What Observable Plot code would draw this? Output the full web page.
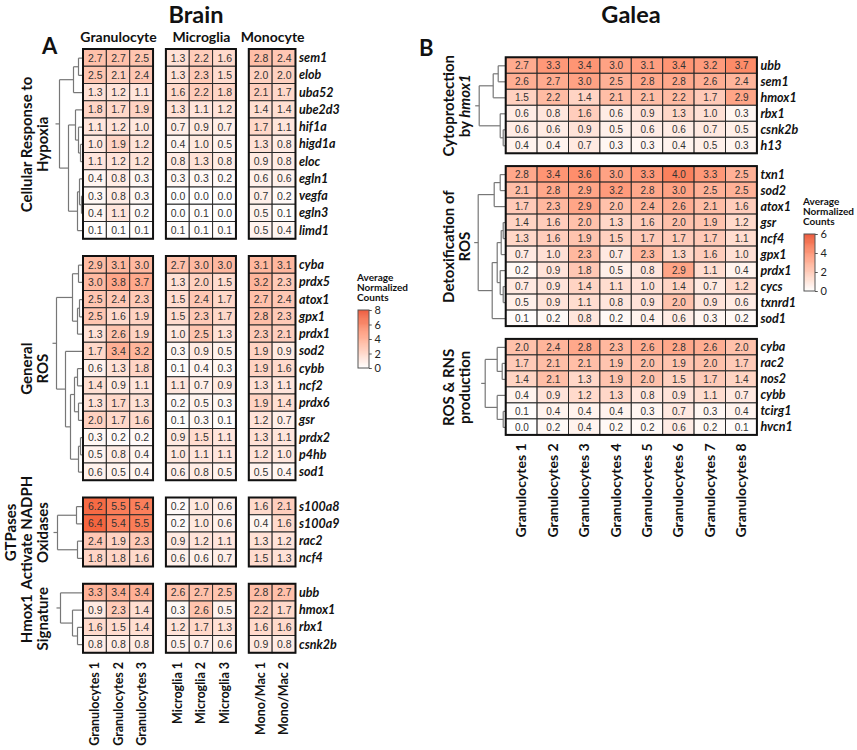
<!DOCTYPE html>
<html><head><meta charset="utf-8">
<script src="https://cdn.jsdelivr.net/npm/d3@7"></script>
<script src="https://cdn.jsdelivr.net/npm/@observablehq/plot@0.6"></script>
<style>
body{margin:0;background:#fff;}
#root{position:relative;width:857px;height:750px;overflow:hidden;font-family:Lato,sans-serif;color:#111;}
.abs{position:absolute;}
.title{font-weight:700;font-size:23.5px;line-height:29px;text-align:center;}
.letter{font-weight:700;font-size:22px;line-height:27px;}
.legtitle{font-weight:700;font-size:10px;line-height:10px;white-space:pre;}
</style></head><body><div id="root"></div>
<script>
// ---------------- DATA ----------------
const brainColumns = ["Granulocytes 1","Granulocytes 2","Granulocytes 3","Microglia 1","Microglia 2","Microglia 3","Mono/Mac 1","Mono/Mac 2"];
const brainColumnGroups = ["Granulocyte","Granulocyte","Granulocyte","Microglia","Microglia","Microglia","Monocyte","Monocyte"];

const hypoxiaLabel = "Cellular Response to\nHypoxia";
const hypoxiaGenes = ["sem1","elob","uba52","ube2d3","hif1a","higd1a","eloc","egln1","vegfa","egln3","limd1"];
const hypoxiaValues = [
 [2.7,2.7,2.5,1.3,2.2,1.6,2.8,2.4],
 [2.5,2.1,2.4,1.3,2.3,1.5,2.0,2.0],
 [1.3,1.2,1.1,1.6,2.2,1.8,2.1,1.7],
 [1.8,1.7,1.9,1.3,1.1,1.2,1.4,1.4],
 [1.1,1.2,1.0,0.7,0.9,0.7,1.7,1.1],
 [1.0,1.9,1.2,0.4,1.0,0.5,1.3,0.8],
 [1.1,1.2,1.2,0.8,1.3,0.8,0.9,0.8],
 [0.4,0.8,0.3,0.3,0.3,0.2,0.6,0.6],
 [0.3,0.8,0.3,0.0,0.0,0.0,0.7,0.2],
 [0.4,1.1,0.2,0.0,0.1,0.0,0.5,0.1],
 [0.1,0.1,0.1,0.1,0.1,0.1,0.5,0.4]];
const hypoxiaTree = [24,[10,[5,0,1],2],[15,[8,3,[5,4,[3,5,6]]],[6,[4,7,[2,8,9]],10]]];

const rosLabel = "General\nROS";
const rosGenes = ["cyba","prdx5","atox1","gpx1","prdx1","sod2","cybb","ncf2","prdx6","gsr","prdx2","p4hb","sod1"];
const rosValues = [
 [2.9,3.1,3.0,2.7,3.0,3.0,3.1,3.1],
 [3.0,3.8,3.7,1.3,2.0,1.5,3.2,2.3],
 [2.5,2.4,2.3,1.5,2.4,1.7,2.7,2.4],
 [2.5,1.6,1.9,1.5,2.3,1.7,2.8,2.3],
 [1.3,2.6,1.9,1.0,2.5,1.3,2.3,2.1],
 [1.7,3.4,3.2,0.3,0.9,0.5,1.9,0.9],
 [0.6,1.3,1.8,0.1,0.4,0.3,1.9,1.6],
 [1.4,0.9,1.1,1.1,0.7,0.9,1.3,1.1],
 [1.3,1.7,1.3,0.2,0.5,0.3,1.9,1.4],
 [2.0,1.7,1.6,0.1,0.3,0.1,1.2,0.7],
 [0.3,0.2,0.2,0.9,1.5,1.1,1.3,1.1],
 [0.5,0.8,0.4,1.0,1.1,1.1,1.2,1.0],
 [0.6,0.5,0.4,0.6,0.8,0.5,0.5,0.4]];
const rosTree = [27,[11,[5,0,1],[6,[4,2,3],4]],[18,5,[13,[9,[6,6,7],[5,8,9]],[5,[3,10,11],12]]]];

const gtpLabel = "GTPases\nActivate NADPH\nOxidases";
const gtpGenes = ["s100a8","s100a9","rac2","ncf4"];
const gtpValues = [
 [6.2,5.5,5.4,0.2,1.0,0.6,1.6,2.1],
 [6.4,5.4,5.5,0.2,1.0,0.6,0.4,1.6],
 [2.4,1.9,2.3,0.9,1.2,1.1,1.3,1.2],
 [1.8,1.8,1.6,0.6,0.6,0.7,1.5,1.3]];
const gtpTree = [26,[7,0,1],[6,2,3]];

const hmoxLabel = "Hmox1\nSignature";
const hmoxGenes = ["ubb","hmox1","rbx1","csnk2b"];
const hmoxValues = [
 [3.3,3.4,3.4,2.6,2.7,2.5,2.8,2.7],
 [0.9,2.3,1.4,0.3,2.6,0.5,2.2,1.7],
 [1.6,1.5,1.4,1.2,1.7,1.3,1.6,1.6],
 [0.8,0.8,0.8,0.5,0.7,0.6,0.9,0.8]];
const hmoxTree = [23,0,[11,1,[6,2,3]]];

const galeaColumns = ["Granulocytes 1","Granulocytes 2","Granulocytes 3","Granulocytes 4","Granulocytes 5","Granulocytes 6","Granulocytes 7","Granulocytes 8"];
const galeaColumnGroups = galeaColumns.map(() => "Granulocytes");

const cytoLabel = "Cytoprotection\nby hmox1";
const cytoGenes = ["ubb","sem1","hmox1","rbx1","csnk2b","h13"];
const cytoValues = [
 [2.7,3.3,3.4,3.0,3.1,3.4,3.2,3.7],
 [2.6,2.7,3.0,2.5,2.8,2.8,2.6,2.4],
 [1.5,2.2,1.4,2.1,2.1,2.2,1.7,2.9],
 [0.6,0.8,1.6,0.6,0.9,1.3,1.0,0.3],
 [0.6,0.6,0.9,0.5,0.6,0.6,0.7,0.5],
 [0.4,0.4,0.7,0.3,0.3,0.4,0.5,0.3]];
const cytoTree = [27,[13,[8,0,1],2],[6,3,[3,4,5]]];

const detoxLabel = "Detoxification of\nROS";
const detoxGenes = ["txn1","sod2","atox1","gsr","ncf4","gpx1","prdx1","cycs","txnrd1","sod1"];
const detoxValues = [
 [2.8,3.4,3.6,3.0,3.3,4.0,3.3,2.5],
 [2.1,2.8,2.9,3.2,2.8,3.0,2.5,2.5],
 [1.7,2.3,2.9,2.0,2.4,2.6,2.1,1.6],
 [1.4,1.6,2.0,1.3,1.6,2.0,1.9,1.2],
 [1.3,1.6,1.9,1.5,1.7,1.7,1.7,1.1],
 [0.7,1.0,2.3,0.7,2.3,1.3,1.6,1.0],
 [0.2,0.9,1.8,0.5,0.8,2.9,1.1,0.4],
 [0.7,0.9,1.4,1.1,1.0,1.4,0.7,1.2],
 [0.5,0.9,1.1,0.8,0.9,2.0,0.9,0.6],
 [0.1,0.2,0.8,0.2,0.4,0.6,0.3,0.2]];
const detoxTree = [28,[12,[6,0,1],2],[14,[9,[5,[3,3,4],5],[6,6,[3,7,8]]],9]];

const rnsLabel = "ROS & RNS\nproduction";
const rnsGenes = ["cyba","rac2","nos2","cybb","tcirg1","hvcn1"];
const rnsValues = [
 [2.0,2.4,2.8,2.3,2.6,2.8,2.6,2.0],
 [1.7,2.1,2.1,1.9,2.0,1.9,2.0,1.7],
 [1.4,2.1,1.3,1.9,2.0,1.5,1.7,1.4],
 [0.4,0.9,1.2,1.3,0.8,0.9,1.1,0.7],
 [0.1,0.4,0.4,0.4,0.3,0.7,0.3,0.4],
 [0.0,0.2,0.4,0.2,0.2,0.6,0.2,0.1]];
const rnsTree = [21,[9,0,[4,1,2]],[9,3,[3,4,5]]];

const legendTitle = "Average\nNormalized\nCounts";
const brainLegendTicks = [0,2,4,6,8];
const galeaLegendTicks = [0,2,4,6];

// ---------------- LAYOUT HELPERS ----------------
const root = document.getElementById("root");
const RED = ["#ffffff","#e8300c"];
const INTERP = "lab";

function treeLinks(tree, y0, k) {
  const out = [];
  function walk(n) {
    if (typeof n === "number") return {y: y0 + n + 0.5, h: 0};
    const [h, a, b] = n;
    const A = walk(a), B = walk(b);
    out.push({x1: -A.h*k, y1: A.y, x2: -h*k, y2: A.y});
    out.push({x1: -B.h*k, y1: B.y, x2: -h*k, y2: B.y});
    out.push({x1: -h*k, y1: A.y, x2: -h*k, y2: B.y});
    return {y: (A.y + B.y)/2, h};
  }
  const r = walk(tree);
  out.push({x1: -r.h*k, y1: r.y, x2: -(r.h+4)*k, y2: r.y});
  return out;
}

function buildPanel(cols, colGroups, groups, colGap, rowGap, k) {
  const order = [...new Set(colGroups)];
  const colX = cols.map((c,i) => i + order.indexOf(colGroups[i])*colGap);
  const cells=[], rows=[], blocks=[], links=[], glabels=[];
  let y = 0;
  groups.forEach(g => {
    const y0 = y;
    g.genes.forEach((gene,r) => {
      rows.push({gene, y: y0 + r + 0.5});
      g.values[r].forEach((v,c) => cells.push({gene, col: cols[c], v, x1: colX[c], y1: y0 + r}));
    });
    order.forEach(cg => {
      const idx = cols.map((c,i)=>i).filter(i => colGroups[i] === cg);
      blocks.push({x1: colX[idx[0]], x2: colX[idx[idx.length-1]] + 1, y1: y0, y2: y0 + g.genes.length});
    });
    glabels.push({label: g.label, y: y0 + g.genes.length/2});
    links.push(...treeLinks(g.tree, y0, k));
    y = y0 + g.genes.length + rowGap;
  });
  const headers = order.map(cg => {
    const idx = cols.map((c,i)=>i).filter(i => colGroups[i] === cg);
    return {label: cg, x: (colX[idx[0]] + colX[idx[idx.length-1]] + 1)/2};
  });
  const colLabels = cols.map((c,i) => ({label: c, x: colX[i] + 0.5}));
  const xEnd = colX[colX.length-1] + 1;
  return {cells, rows, blocks, links, glabels, headers, colLabels, xEnd, yEnd: y - rowGap};
}

function panelPlot(P, o) {
  return Plot.plot({
    width: o.width, height: 750, margin: 0,
    x: {type: "linear", domain: [-o.x0/o.colW, (o.width - o.x0)/o.colW], range: [0, o.width], axis: null},
    y: {type: "linear", domain: [-o.y0/o.rowH, (750 - o.y0)/o.rowH], range: [0, 750], axis: null},
    color: {type: "linear", domain: [0, o.max], range: RED, interpolate: INTERP},
    style: {fontFamily: "Lato, sans-serif", background: "transparent"},
    marks: [
      Plot.link(P.links, {x1: "x1", y1: "y1", x2: "x2", y2: "y2", stroke: "#777", strokeWidth: 1.2}),
      Plot.rect(P.cells, {x1: "x1", x2: d => d.x1 + 1, y1: "y1", y2: d => d.y1 + 1, fill: "v", stroke: "#2a2a2a", strokeWidth: 1}),
      Plot.rect(P.blocks, {x1: "x1", x2: "x2", y1: "y1", y2: "y2", fill: "none", stroke: "#111", strokeWidth: 2}),
      Plot.text(P.cells, {x: d => d.x1 + 0.5, y: d => d.y1 + 0.5, text: d => d.v.toFixed(1), fontSize: o.numSize, fill: "#333", fontFamily: "Liberation Sans, Arial, sans-serif"}),
      Plot.text(P.rows, {x: () => P.xEnd, y: "y", text: "gene", textAnchor: "start", dx: 3, fontStyle: "italic", fontWeight: "bold", fontSize: 12.5, fill: "#111"}),
      Plot.text(P.glabels, {x: () => o.glabelX, y: "y", text: "label", rotate: -90, lineAnchor: "bottom", fontWeight: "bold", fontSize: 15, lineHeight: 1.05, fill: "#111"}),
      o.headers ? Plot.text(P.headers, {x: "x", y: () => o.headerY, text: "label", fontWeight: "bold", fontSize: 14, fill: "#111"}) : null,
      Plot.text(P.colLabels, {x: "x", y: () => P.yEnd + o.colLabelGap, text: "label", rotate: -90, textAnchor: "end", fontWeight: "bold", fontSize: o.colLabelSize, fill: "#111"})
    ]
  });
}

function legendPlot(max, ticks, h) {
  const steps = d3.range(0, max, max/120);
  return Plot.plot({
    width: 40, height: h + 16, margin: 0,
    x: {type: "linear", domain: [0, 1], range: [1, 12], axis: null},
    y: {type: "linear", domain: [0, max], range: [h + 8, 8], axis: null},
    color: {type: "linear", domain: [0, max], range: RED, interpolate: INTERP},
    style: {fontFamily: "Lato, sans-serif", background: "transparent"},
    marks: [
      Plot.rect(steps, {x1: 0, x2: 1, y1: d => d, y2: d => Math.min(max, d + max/120 + 0.01), fill: d => d + max/240}),
      Plot.rect([max], {x1: 0, x2: 1, y1: 0, y2: d => d, fill: "none", stroke: "#555", strokeWidth: 1}),
      Plot.ruleY(ticks, {x1: 1, x2: 1.25, stroke: "#555"}),
      Plot.text(ticks, {x: 1, y: d => d, text: d => String(d), dx: 5, textAnchor: "start", fontSize: 11, fill: "#222"})
    ]
  });
}

function place(el, left, top) { el.style.position = "absolute"; el.style.left = left + "px"; el.style.top = top + "px"; root.appendChild(el); }
function div(cls, text, left, top, w) { const d = document.createElement("div"); d.className = "abs " + cls; d.textContent = text; d.style.left = left + "px"; d.style.top = top + "px"; if (w) d.style.width = w + "px"; root.appendChild(d); return d; }

// ---------------- BRAIN ----------------
const brainColW = 23.35;
const brain = buildPanel(brainColumns, brainColumnGroups, [
  {label: hypoxiaLabel, genes: hypoxiaGenes, values: hypoxiaValues, tree: hypoxiaTree},
  {label: rosLabel, genes: rosGenes, values: rosValues, tree: rosTree},
  {label: gtpLabel, genes: gtpGenes, values: gtpValues, tree: gtpTree},
  {label: hmoxLabel, genes: hmoxGenes, values: hmoxValues, tree: hmoxTree}
], 0.55, 1, 1/brainColW);
place(panelPlot(brain, {width: 345, x0: 83, colW: brainColW, y0: 49, rowH: 17.25, max: 8, numSize: 10.5,
  glabelX: (47 - 83)/brainColW, headers: true, headerY: -0.67, colLabelGap: 0.5, colLabelSize: 12.5}), 0, 0);

// ---------------- GALEA ----------------
const galeaColW = 31.4;
const galea = buildPanel(galeaColumns, galeaColumnGroups, [
  {label: cytoLabel, genes: cytoGenes, values: cytoValues, tree: cytoTree},
  {label: detoxLabel, genes: detoxGenes, values: detoxValues, tree: detoxTree},
  {label: rnsLabel, genes: rnsGenes, values: rnsValues, tree: rnsTree}
], 0, 0.8, 1/galeaColW);
const galeaSvg = panelPlot(galea, {width: 457, x0: 105.7, colW: galeaColW, y0: 57.3, rowH: 16, max: 6, numSize: 10,
  glabelX: (69 - 105.7)/galeaColW, headers: false, colLabelGap: 0.5, colLabelSize: 14});
galeaSvg.querySelectorAll("tspan").forEach(t => {
  if (t.textContent === "by hmox1") {
    t.textContent = "by ";
    const it = document.createElementNS("http://www.w3.org/2000/svg", "tspan");
    it.setAttribute("font-style", "italic");
    it.textContent = "hmox1";
    t.appendChild(it);
  }
});
place(galeaSvg, 400, 0);

// ---------------- LEGENDS ----------------
place(legendPlot(8, brainLegendTicks, 58), 357, 302);
div("legtitle", legendTitle, 357, 272);

place(legendPlot(6, galeaLegendTicks, 57), 803, 226);
div("legtitle", legendTitle, 803, 196);

// ---------------- TITLES ----------------
div("title", "Brain", 146, 0, 100);
div("title", "Galea", 581, 0, 100);
div("letter", "A", 42, 32);
div("letter", "B", 419, 34);
</script></body></html>
